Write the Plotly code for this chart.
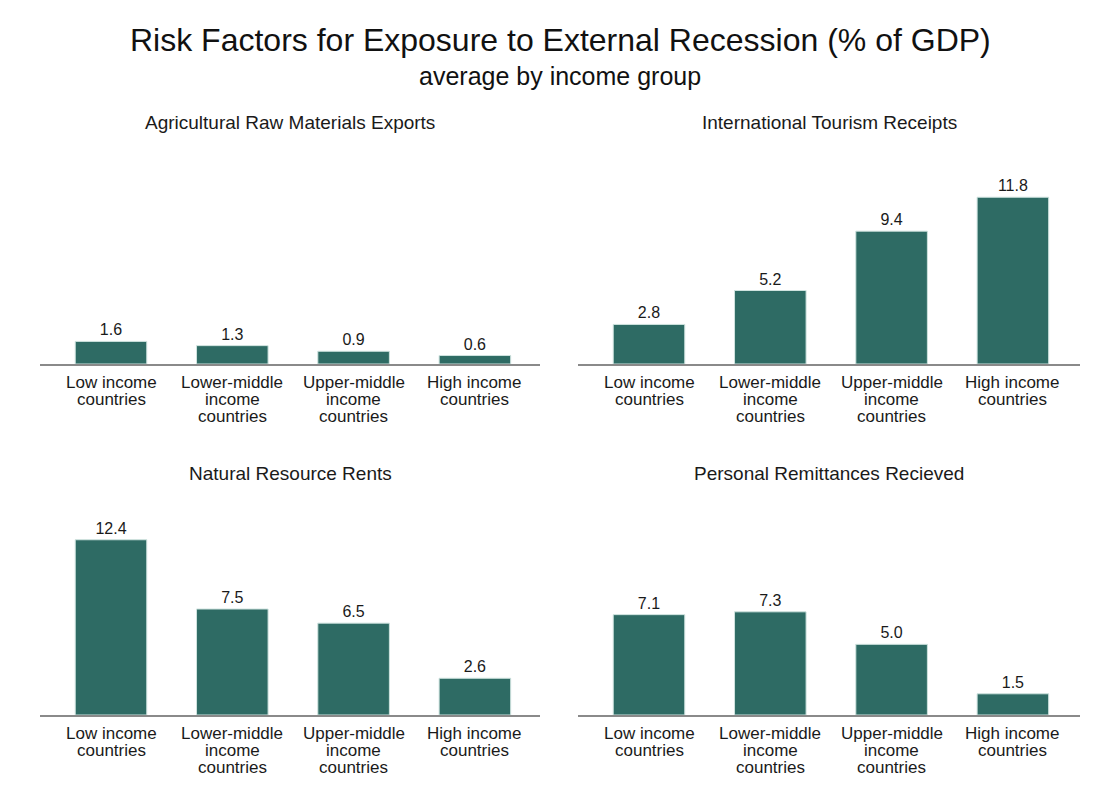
import plotly.graph_objects as go

categories = [
    "Low income countries",
    "Lower-middle income countries",
    "Upper-middle income countries",
    "High income countries",
]
# how each category name is broken over lines under the axis
category_lines = [
    ["Low income", "countries"],
    ["Lower-middle", "income", "countries"],
    ["Upper-middle", "income", "countries"],
    ["High income", "countries"],
]

panel_titles = [
    "Agricultural Raw Materials Exports",
    "International Tourism Receipts",
    "Natural Resource Rents",
    "Personal Remittances Recieved",
]

ag_raw_materials = [1.6, 1.3, 0.9, 0.6]
tourism_receipts = [2.8, 5.2, 9.4, 11.8]
resource_rents = [12.4, 7.5, 6.5, 2.6]
remittances = [7.1, 7.3, 5.0, 1.5]

series = [ag_raw_materials, tourism_receipts, resource_rents, remittances]

W, H = 1112, 811
FONT = "Liberation Sans, Arial, sans-serif"
BAR = "#2e6b64"
TXT = "#1a1a1a"

# panel geometry in pixels: (x_left, x_right, baseline_y, top_y)
panels = [
    (40, 540, 364, 152),
    (578, 1080, 364, 152),
    (40, 540, 715, 503),
    (578, 1080, 715, 503),
]
Y_MAX = 15.0
LINE_H = 17

fig = go.Figure()
for i, (vals, (x0, x1, yb, yt)) in enumerate(zip(series, panels)):
    n = i + 1
    xa = "x" if n == 1 else f"x{n}"
    ya = "y" if n == 1 else f"y{n}"
    fig.add_trace(go.Bar(
        x=categories, y=vals, xaxis=xa, yaxis=ya,
        marker=dict(color=BAR, line=dict(color="#cfe3df", width=1)),
        width=0.59,
        text=[f"{v:.1f}" for v in vals],
        textposition="outside",
        textfont=dict(size=16, color=TXT, family=FONT),
        cliponaxis=False,
        showlegend=False,
        hoverinfo="skip",
    ))
    # map category centres so the axis line spans the panel width
    cx0 = x0 + 71
    step = 121.3
    lo = (x0 - cx0) / step
    hi = (x1 - cx0) / step
    key_x = "xaxis" if n == 1 else f"xaxis{n}"
    key_y = "yaxis" if n == 1 else f"yaxis{n}"
    fig.layout[key_x] = dict(
        domain=[x0 / W, x1 / W], anchor=ya, range=[lo, hi],
        type="category", categoryorder="array", categoryarray=categories,
        showline=True, linecolor="#8a8a8a", linewidth=2,
        ticks="", showticklabels=False, showgrid=False, zeroline=False,
        fixedrange=True,
    )
    fig.layout[key_y] = dict(
        domain=[1 - yb / H, 1 - yt / H], anchor=xa, range=[0, Y_MAX],
        visible=False, showgrid=False, zeroline=False, fixedrange=True,
    )
    # category labels, one text line per annotation for tight leading
    for cat, lines in zip(categories, category_lines):
        for k, line in enumerate(lines):
            fig.add_annotation(
                text=line, xref=xa, yref=ya, x=cat, y=0,
                yshift=-(18 + LINE_H * k), showarrow=False,
                xanchor="center", yanchor="middle",
                font=dict(size=17, color=TXT, family=FONT),
            )
    fig.add_annotation(
        text=panel_titles[i], xref="paper", yref="paper",
        x=(x0 + x1) / 2 / W, y=1 - (122 if i < 2 else 473) / H,
        showarrow=False, xanchor="center", yanchor="middle",
        font=dict(size=19, color=TXT, family=FONT),
    )

fig.add_annotation(
    text="Risk Factors for Exposure to External Recession (% of GDP)",
    xref="paper", yref="paper", x=560 / W, y=1 - 40 / H,
    showarrow=False, xanchor="center", yanchor="middle",
    font=dict(size=32, color="#111111", family=FONT),
)
fig.add_annotation(
    text="average by income group",
    xref="paper", yref="paper", x=560 / W, y=1 - 76 / H,
    showarrow=False, xanchor="center", yanchor="middle",
    font=dict(size=25, color="#111111", family=FONT),
)

fig.update_layout(
    width=W, height=H,
    margin=dict(l=0, r=0, t=0, b=0),
    paper_bgcolor="white", plot_bgcolor="white",
    font=dict(family=FONT, color=TXT),
    bargap=0.4,
)

fig.write_html("out.html", config={"displayModeBar": False})
